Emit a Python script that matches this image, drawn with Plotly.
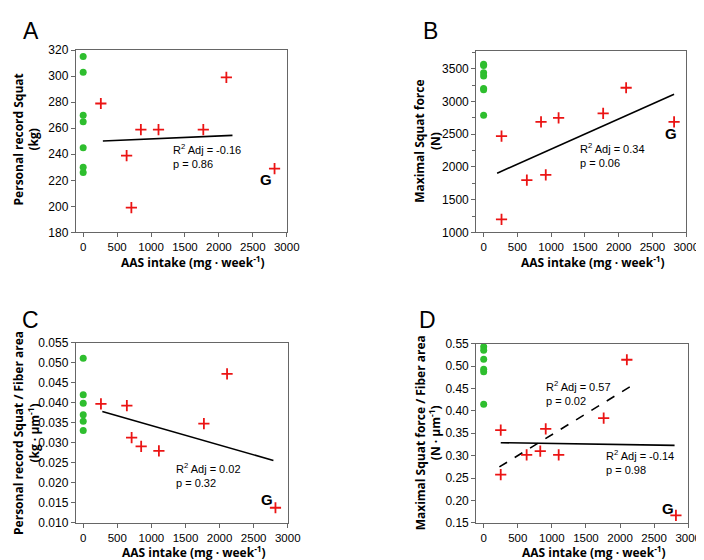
import plotly.graph_objects as go

# Panel A - personal record squat (kg)
a_ctrl = [315, 303, 270, 265, 245, 230, 226]
a_aas_x = [260, 640, 710, 850, 1110, 1770, 2110, 2820]
a_aas_y = [279, 239, 199, 259, 259, 259, 299, 229]
a_fit_x = [290, 2200]
a_fit_y = [250.2, 254.5]

# Panel B - maximal squat force (N)
b_ctrl = [3570, 3550, 3440, 3390, 3200, 3180, 2790]
b_aas_x = [265, 265, 640, 850, 920, 1110, 1770, 2110, 2820]
b_aas_y = [2470, 1200, 1800, 2690, 1880, 2750, 2820, 3210, 2690]
b_fit_x = [200, 2820]
b_fit_y = [1905, 3110]

# Panel C - PR squat / fiber area
c_ctrl = [0.0511, 0.0420, 0.0399, 0.0370, 0.0354, 0.0331]
c_aas_x = [260, 640, 710, 850, 1110, 1770, 2110, 2820]
c_aas_y = [0.0397, 0.0393, 0.0313, 0.0291, 0.0280, 0.0348, 0.0472, 0.0138]
c_fit_x = [280, 2790]
c_fit_y = [0.0378, 0.0256]

# Panel D - max squat force / fiber area
d_ctrl = [0.543, 0.535, 0.515, 0.493, 0.487, 0.415]
d_aas_x = [250, 250, 630, 830, 910, 1100, 1760, 2100, 2820]
d_aas_y = [0.357, 0.258, 0.302, 0.310, 0.360, 0.302, 0.384, 0.514, 0.167]
d_fit_x = [250, 2800]
d_fit_y = [0.329, 0.323]
d_dash_x = [230, 2180]
d_dash_y = [0.275, 0.457]

W, H = 704, 560


def px(x):
    return x / W


def py(y):
    return 1 - y / H


GREEN = "rgb(46,190,46)"
RED = "rgb(235,20,20)"
AX = "#666666"
FONT = "Liberation Sans"
BOLD = "Open Sans"

fig = go.Figure()

panels = [
    # key, ctrl, aas x, aas y, fits, x-domain px, y-domain px, y range, dtick, minor
    ("", a_ctrl, a_aas_x, a_aas_y, [(a_fit_x, a_fit_y, "solid")],
     (69, 284), (36, 223), [180, 320], 20, None),
    ("2", b_ctrl, b_aas_x, b_aas_y, [(b_fit_x, b_fit_y, "solid")],
     (477, 691), (37, 223), [1000, 3770], 500, 250),
    ("3", c_ctrl, c_aas_x, c_aas_y, [(c_fit_x, c_fit_y, "solid")],
     (69, 285), (336, 521), [0.010, 0.055], 0.005, None),
    ("4", d_ctrl, d_aas_x, d_aas_y, [(d_fit_x, d_fit_y, "solid"),
                                     (d_dash_x, d_dash_y, "dash")],
     (477, 693), (337, 521), [0.15, 0.55], 0.05, None),
]

layout = {}
for key, ctrl, ax_, ay_, fits, xd, yd, yr, dt, minor in panels:
    xa = "x" + key
    ya = "y" + key
    for fx, fy, dash in fits:
        fig.add_trace(go.Scatter(x=fx, y=fy, mode="lines", xaxis=xa, yaxis=ya,
                                 line=dict(color="black", width=1.6, dash=dash)))
    fig.add_trace(go.Scatter(x=[0] * len(ctrl), y=ctrl, mode="markers",
                             xaxis=xa, yaxis=ya,
                             marker=dict(color=GREEN, size=7, symbol="circle")))
    fig.add_trace(go.Scatter(x=ax_, y=ay_, mode="markers", xaxis=xa, yaxis=ya,
                             marker=dict(symbol="cross-thin", size=8,
                                         line=dict(color=RED, width=1.8))))
    yaxis = dict(domain=[py(yd[1]), py(yd[0])], range=yr, dtick=dt,
                 anchor=xa, showgrid=False, zeroline=False, showline=True,
                 linecolor=AX, linewidth=1, mirror=True, ticks="outside",
                 ticklen=4, tickcolor=AX,
                 tickfont=dict(family=FONT, size=12, color="black"))
    if key == "3":
        yaxis["tickformat"] = ".3f"
    elif key == "4":
        yaxis["tickformat"] = ".2f"
    if minor:
        yaxis["minor"] = dict(dtick=minor, ticks="outside", ticklen=3,
                              tickcolor=AX, showgrid=False)
    xaxis = dict(domain=[px(xd[0]), px(xd[1])], range=[-110, 3000], dtick=500,
                 anchor=ya, showgrid=False, zeroline=False, showline=True,
                 linecolor=AX, linewidth=1, mirror=True, ticks="outside",
                 ticklen=4, tickcolor=AX,
                 tickfont=dict(family=FONT, size=11.5, color="black"))
    layout["xaxis" + key] = xaxis
    layout["yaxis" + key] = yaxis

fig.update_layout(**layout)

anns = []
# panel letters
for letter, lx, ly in [("A", 23, 16), ("B", 430, 16), ("C", 23, 313), ("D", 427, 313)]:
    anns.append(dict(text=letter, x=px(lx), y=py(ly), xref="paper", yref="paper",
                     xanchor="center", yanchor="middle", showarrow=False,
                     font=dict(family=FONT, size=23, color="black")))

# x axis titles
xtitle = "AAS intake (mg · week<sup>-1</sup>)"
for cx, cy in [(188, 253), (596, 253), (189, 551), (597, 551)]:
    anns.append(dict(text="<b>" + xtitle + "</b>", x=px(cx), y=py(cy),
                     xref="paper", yref="paper", showarrow=False,
                     xanchor="center", yanchor="middle",
                     font=dict(family=BOLD, size=12, color="black")))

# y axis titles
ytitles = [
    ("Personal record Squat<br>(kg)", 19, 128),
    ("Maximal Squat force<br>(N)", 428, 130),
    ("Personal record Squat / Fiber area<br>(kg · µm<sup>-1</sup>)", 19, 429),
    ("Maximal Squat force / Fiber area<br>(N · µm<sup>-1</sup>)", 428, 429),
]
for t, cx, cy in ytitles:
    anns.append(dict(text="<b>" + t + "</b>", x=px(cx), y=py(cy), xref="paper",
                     yref="paper", showarrow=False, textangle=-90,
                     xanchor="center", yanchor="middle",
                     font=dict(family=BOLD, size=12, color="black")))

# statistics text and G labels
stats = [
    ("x", "y", "R<sup>2</sup> Adj = -0.16<br>p = 0.86", 1300, 239),
    ("x2", "y2", "R<sup>2</sup> Adj = 0.34<br>p = 0.06", 1390, 2176),
    ("x3", "y3", "R<sup>2</sup> Adj = 0.02<br>p = 0.32", 1330, 0.0219),
    ("x4", "y4", "R<sup>2</sup> Adj = 0.57<br>p = 0.02", 880, 0.439),
    ("x4", "y4", "R<sup>2</sup> Adj = -0.14<br>p = 0.98", 1770, 0.286),
]
for xr, yr, t, x, y in stats:
    anns.append(dict(text=t, x=x, y=y, xref=xr, yref=yr, showarrow=False,
                     xanchor="left", yanchor="middle", align="left",
                     font=dict(family=FONT, size=11, color="black")))

g_labels = [("x", "y", 2700, 221), ("x2", "y2", 2770, 2518),
            ("x3", "y3", 2700, 0.0158), ("x4", "y4", 2708, 0.183)]
for xr, yr, x, y in g_labels:
    anns.append(dict(text="<b>G</b>", x=x, y=y, xref=xr, yref=yr, showarrow=False,
                     xanchor="center", yanchor="middle",
                     font=dict(family=FONT, size=15, color="black")))

fig.update_layout(
    annotations=anns,
    showlegend=False,
    width=W, height=H,
    margin=dict(l=0, r=0, t=0, b=0),
    paper_bgcolor="white",
    plot_bgcolor="white",
)

fig.write_html("out.html")
